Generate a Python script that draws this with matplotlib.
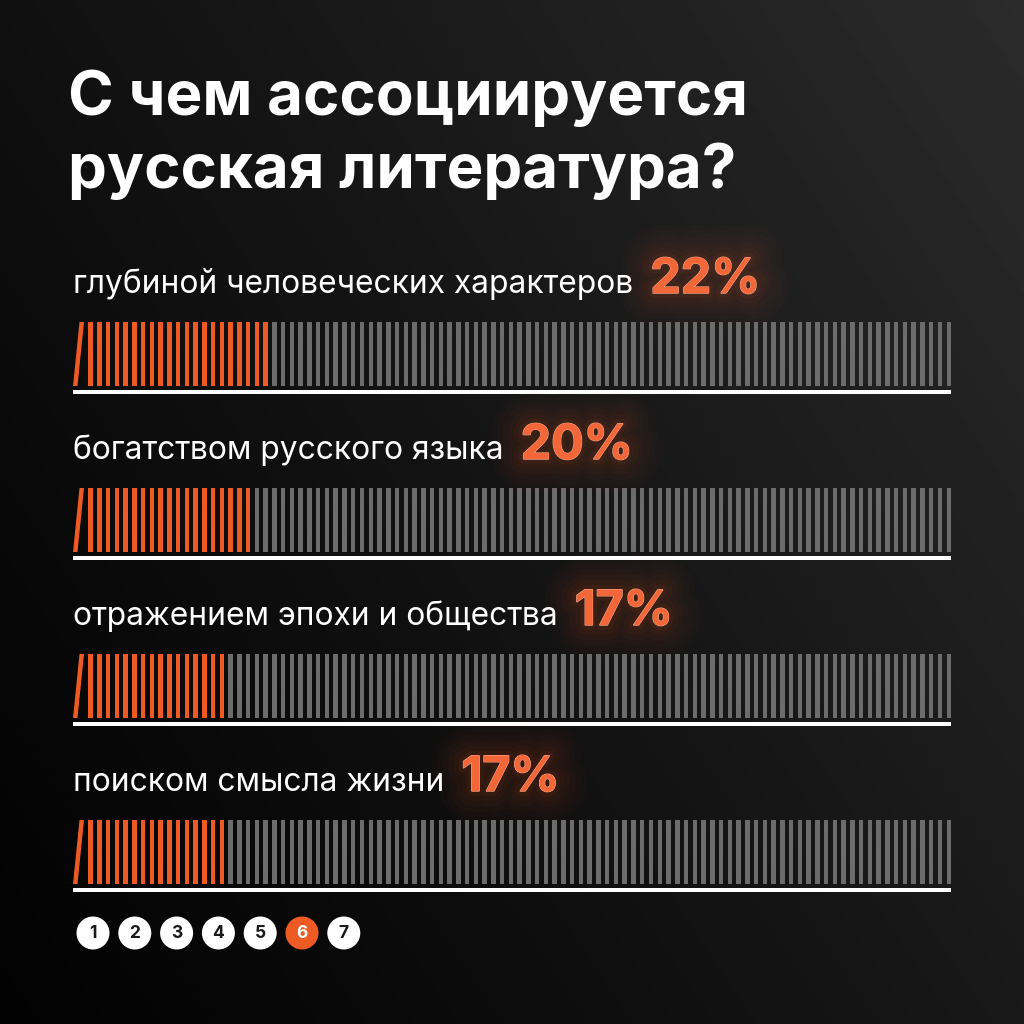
import numpy as np
import matplotlib
matplotlib.use("Agg")
import matplotlib.pyplot as plt
from matplotlib.patches import Polygon, Rectangle, Circle
import matplotlib.patheffects as pe

plt.rcParams['font.family'] = ['Inter', 'DejaVu Sans']

title_lines = ["С чем ассоциируется", "русская литература?"]
categories = [
    "глубиной человеческих характеров",
    "богатством русского языка",
    "отражением эпохи и общества",
    "поиском смысла жизни",
]
shares = [22, 20, 17, 17]
n_cells = 100
pages = [1, 2, 3, 4, 5, 6, 7]
current_page = 6

ORANGE = "#ee5a24"
GRAY = "#6c6c6c"

fig = plt.figure(figsize=(10.24, 10.24), dpi=100)
ax = fig.add_axes([0, 0, 1, 1])
ax.set_xlim(0, 1024)
ax.set_ylim(1024, 0)
ax.axis("off")

# background: dark diagonal gradient (black bottom-left -> gray top-right)
gx, gy = np.meshgrid(np.linspace(0, 1, 256), np.linspace(0, 1, 256))
t = 0.6 * gx + 0.4 * (1 - gy)
bg = 0.01 + 0.16 * t ** 1.2
ax.imshow(bg, cmap="gray", vmin=0, vmax=1, extent=[0, 1024, 1024, 0],
          aspect="auto", zorder=0, interpolation="bilinear")

renderer = fig.canvas.get_renderer()


def fit_size(txt, target, **kw):
    t = ax.text(0, 0, txt, fontsize=30, **kw)
    w = t.get_window_extent(renderer=renderer).width
    t.remove()
    return 30 * target / w


# title
title_size = fit_size(title_lines[0], 680, fontweight="bold")
for k, line in enumerate(title_lines):
    ax.text(68, 115 + 73 * k, line, fontsize=title_size, fontweight="bold",
            color="white", va="baseline", ha="left", zorder=5)

label_size = fit_size(categories[0], 560)
pct_size = fit_size("22%", 110, fontweight="bold")

x_left = 73
x_right = 951
pitch = (x_right - 4.5 - 79.5) / (n_cells - 1)
stripe_w = 4.5
bar_h = 64
row_step = 166

glow = [pe.withStroke(linewidth=lw, foreground=ORANGE, alpha=a,
                      joinstyle="round", capstyle="round")
        for lw, a in [(46, 0.018), (38, 0.022), (30, 0.026), (22, 0.03),
                      (14, 0.04), (7, 0.06)]]
glow += [pe.withStroke(linewidth=1.0, foreground="#f8a88a"), pe.Normal()]

for r, (cat, val) in enumerate(zip(categories, shares)):
    top = 322 + row_step * r
    base_y = 293 + row_step * r

    lab = ax.text(x_left, base_y, cat, fontsize=label_size, color="white",
                  va="baseline", ha="left", zorder=5)
    bb = lab.get_window_extent(renderer=renderer)
    x_end = ax.transData.inverted().transform((bb.x1, bb.y0))[0]
    ax.text(x_end + 17, base_y, f"{val}%", fontsize=pct_size,
            fontweight="bold", color="#f26638", va="baseline", ha="left",
            zorder=6, path_effects=glow)

    # slanted first cell
    ax.add_patch(Polygon([(x_left, top + bar_h), (x_left + stripe_w, top + bar_h),
                          (79.5 + stripe_w, top), (79.5, top)],
                         closed=True, color=ORANGE, lw=0, zorder=3))
    idx = np.arange(1, n_cells)
    xs = 79.5 + pitch * idx
    cols = [ORANGE if i < val else GRAY for i in idx]
    ax.bar(xs, bar_h, width=stripe_w, bottom=top, align="edge",
           color=cols, linewidth=0, zorder=3)
    ax.add_patch(Rectangle((x_left, top + bar_h + 4), x_right - x_left, 4,
                           color="white", lw=0, zorder=3))

# page indicators
for k, p in enumerate(pages):
    cx = 93 + 41.8 * k
    cy = 933
    fc = ORANGE if p == current_page else "white"
    tc = "white" if p == current_page else "#1a1a1a"
    ax.add_patch(Circle((cx, cy), 16.5, color=fc, lw=0, zorder=4))
    ax.text(cx, cy + 1, str(p), fontsize=12.5, fontweight="bold", color=tc,
            ha="center", va="center", zorder=5)

fig.savefig("out.png", dpi=100)
